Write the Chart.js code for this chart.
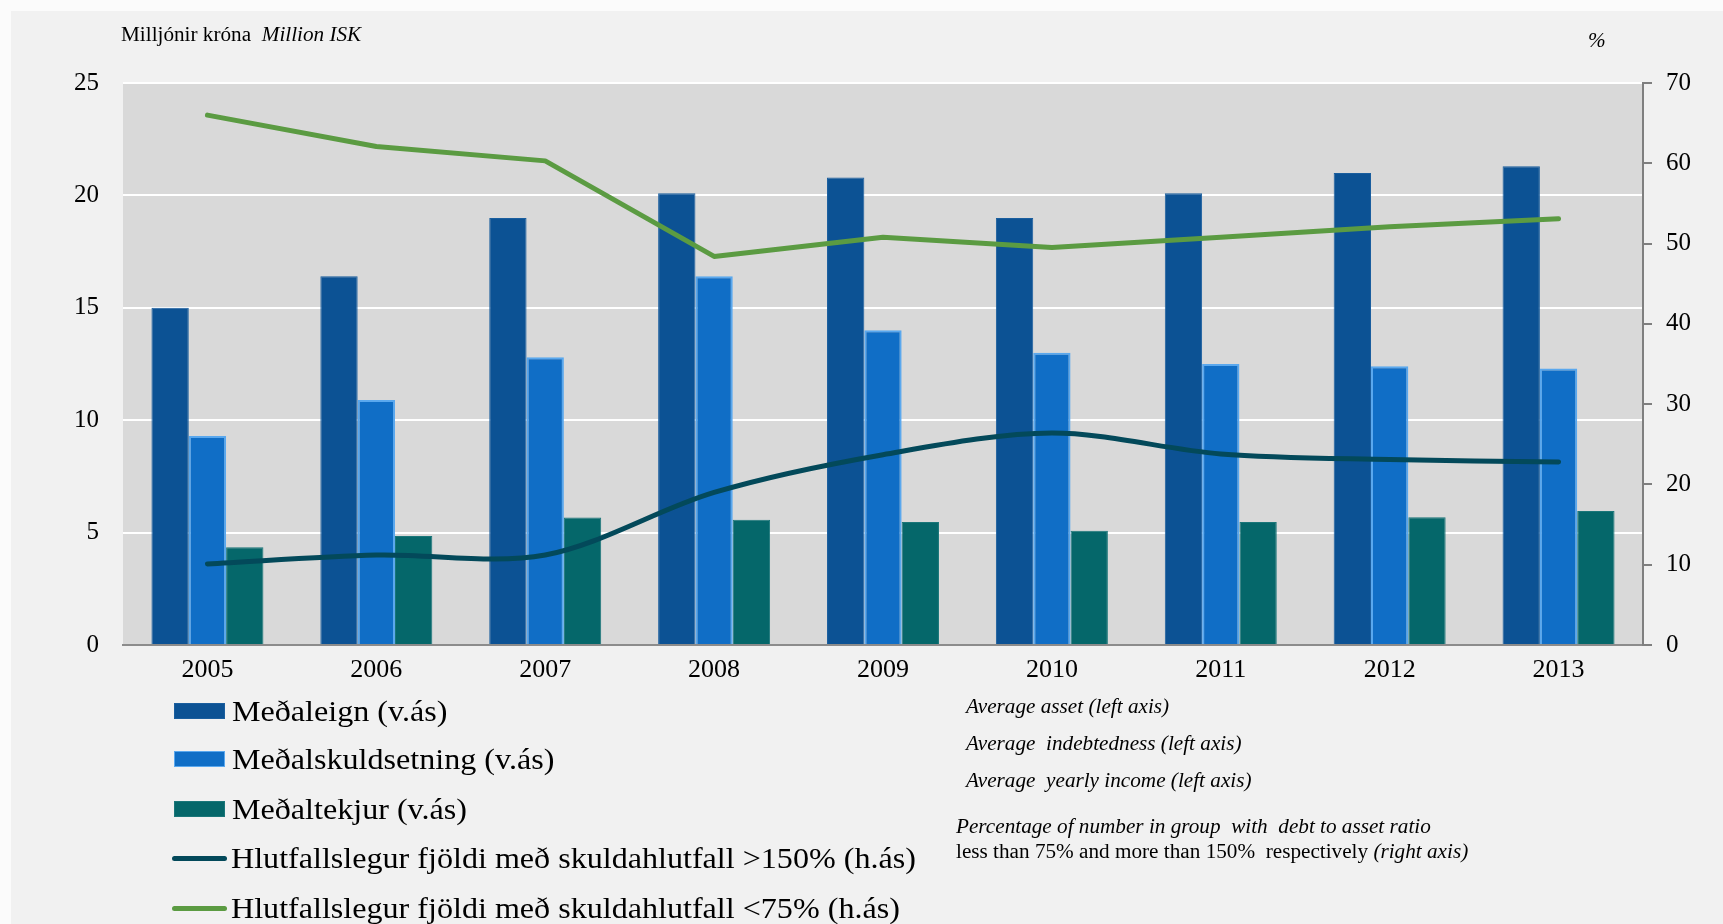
<!DOCTYPE html>
<html>
<head>
<meta charset="utf-8">
<script src="https://cdn.jsdelivr.net/npm/chart.js@4"></script>
<style>
  html, body { margin: 0; padding: 0; }
  body { width: 1723px; height: 924px; background: #fbfbfb; position: relative; overflow: hidden; font-family: 'Liberation Serif', 'Times New Roman', serif; }
  #frame { position: absolute; left: 11px; top: 11px; right: 0; bottom: 0; background: #f1f1f1; }
  #c { position: absolute; left: 0; top: 0; }
  .t { position: absolute; white-space: pre; color: #000; line-height: 1; transform-origin: left center; transform: scaleX(1.06); }
  .i { font-style: italic; }
  .leg { position: absolute; left: 172px; height: 30px; display: flex; align-items: center; }
  .leg .mk { width: 51px; margin-right: 7px; flex: none; }
  .leg span { font-size: 30px; white-space: pre; display: inline-block; transform-origin: left center; transform: scaleX(1.07); }
</style>
</head>
<body>
<div id="frame"></div>
<canvas id="c" width="1723" height="924"></canvas>

<div class="t" style="left:121px; top:24px; font-size:20px;">Milljónir króna  <span class="i">Million ISK</span></div>
<div class="t i" style="left:1588px; top:30px; font-size:20px;">%</div>

<div id="legend"></div>

<div class="t i" style="left:966px; top:696px; font-size:20px;">Average asset (left axis)</div>
<div class="t i" style="left:966px; top:733px; font-size:20px;">Average  indebtedness (left axis)</div>
<div class="t i" style="left:966px; top:770px; font-size:20px;">Average  yearly income (left axis)</div>
<div class="t i" style="left:956px; top:816px; font-size:20px;">Percentage of number in group  with  debt to asset ratio</div>
<div class="t" style="left:956px; top:841px; font-size:20px;">less than 75% and more than 150%  respectively <span class="i">(right axis)</span></div>

<script>
const years = ['2005', '2006', '2007', '2008', '2009', '2010', '2011', '2012', '2013'];

// vinstri ás, milljónir króna
const medaleign = [15.0, 16.4, 19.0, 20.1, 20.8, 19.0, 20.1, 21.0, 21.3];
const medalskuld = [9.3, 10.9, 12.8, 16.4, 14.0, 13.0, 12.5, 12.4, 12.3];
const medaltekjur = [4.35, 4.85, 5.67, 5.57, 5.47, 5.08, 5.47, 5.68, 5.96];

// hægri ás, %
const yfir150 = [10.1, 11.2, 11.2, 19.0, 23.7, 26.4, 23.8, 23.1, 22.8];
const undir75 = [66.0, 62.1, 60.3, 48.4, 50.8, 49.5, 50.8, 52.1, 53.1];

const leftTicks = [0, 5, 10, 15, 20, 25];
const rightTicks = [0, 10, 20, 30, 40, 50, 60, 70];

const labels = [
    'Meðaleign (v.ás)',
    'Meðalskuldsetning (v.ás)',
    'Meðaltekjur (v.ás)',
    'Hlutfallslegur fjöldi með skuldahlutfall >150% (h.ás)',
    'Hlutfallslegur fjöldi með skuldahlutfall <75% (h.ás)'
];

const C = {
    dark: '#0c5294',
    mid: '#106ec6',
    midBorder: '#5aa8ee',
    teal: '#05676a',
    lineDark: '#03495a',
    green: '#5b9b42'
};

Chart.defaults.font.family = "'Liberation Serif', 'Times New Roman', serif";
Chart.defaults.color = '#000';

const plotBg = {
    id: 'plotBg',
    beforeDraw(chart) {
        const a = chart.chartArea, ctx = chart.ctx;
        ctx.save();
        ctx.fillStyle = '#d9d9d9';
        ctx.fillRect(a.left, a.top, a.right - a.left, a.bottom - a.top);
        ctx.restore();
    }
};

const bar = (label, data, color, border, bw) => ({
    type: 'bar', label, data, yAxisID: 'y', order: 2,
    backgroundColor: color, borderColor: border, borderWidth: bw,
    categoryPercentage: 0.663, barPercentage: 1.0
});

const line = (label, data, color, tension) => ({
    type: 'line', label, data, yAxisID: 'y1', order: 1,
    borderColor: color, backgroundColor: color, borderWidth: 5,
    pointRadius: 0, tension, borderCapStyle: 'round', borderJoinStyle: 'round'
});

const chart = new Chart(document.getElementById('c'), {
    data: {
        labels: years,
        datasets: [
            bar(labels[0], medaleign, C.dark, '#1a5e9e', 1),
            bar(labels[1], medalskuld, C.mid, C.midBorder, 2),
            bar(labels[2], medaltekjur, C.teal, '#1a7679', 1),
            line(labels[3], yfir150, C.lineDark, 0.32),
            line(labels[4], undir75, C.green, 0)
        ]
    },
    options: {
        responsive: false,
        animation: false,
        devicePixelRatio: 1,
        layout: { padding: { top: 83, left: 0, right: 0, bottom: 0 } },
        plugins: { legend: { display: false }, tooltip: { enabled: false } },
        scales: {
            x: {
                offset: true,
                grid: { display: false },
                border: { display: true, color: '#8c8c8c', width: 2 },
                ticks: { font: { size: 26 }, padding: 2, maxRotation: 0 },
                afterFit(s) { s.height = 279; }
            },
            y: {
                position: 'left',
                min: 0, max: 25,
                afterBuildTicks(s) { s.ticks = leftTicks.map(v => ({ value: v })); },
                grid: { color: '#ffffff', lineWidth: 2, drawTicks: false },
                border: { display: false },
                ticks: { font: { size: 25 }, padding: 24 },
                afterFit(s) { s.width = 123; }
            },
            y1: {
                position: 'right',
                min: 0, max: 70,
                afterBuildTicks(s) { s.ticks = rightTicks.map(v => ({ value: v })); },
                grid: { drawOnChartArea: false, drawTicks: true, tickLength: 9, color: '#7f7f7f', lineWidth: 2 },
                border: { display: true, color: '#7f7f7f', width: 2 },
                ticks: { font: { size: 25 }, padding: 14 },
                afterFit(s) { s.width = 80; }
            }
        }
    },
    plugins: [plotBg]
});

// skýringar
const legend = document.getElementById('legend');
const rowsY = [711, 759, 809, 858, 908];
chart.data.datasets.forEach((ds, i) => {
    const row = document.createElement('div');
    row.className = 'leg';
    row.style.top = (rowsY[i] - 15) + 'px';
    const mk = document.createElement('div');
    mk.className = 'mk';
    if (ds.type === 'bar') {
        mk.style.height = '14px';
        mk.style.background = ds.backgroundColor;
        mk.style.border = '1px solid ' + ds.borderColor;
        mk.style.marginLeft = '2px';
        mk.style.width = '49px';
    } else {
        mk.style.height = '5px';
        mk.style.borderRadius = '3px';
        mk.style.background = ds.borderColor;
        mk.style.width = '55px';
        mk.style.marginRight = '4px';
    }
    const sp = document.createElement('span');
    sp.textContent = ds.label;
    row.appendChild(mk);
    row.appendChild(sp);
    legend.appendChild(row);
});
</script>
</body>
</html>
